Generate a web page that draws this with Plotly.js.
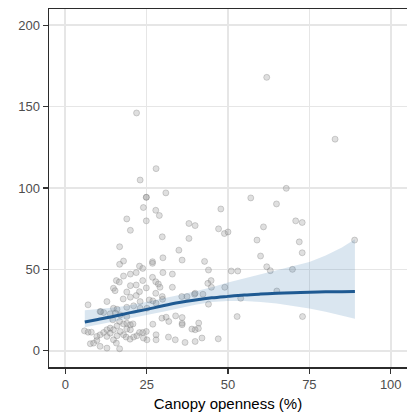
<!DOCTYPE html>
<html>
<head>
<meta charset="utf-8">
<script src="https://cdn.plot.ly/plotly-3.0.1.min.js"></script>
<style>html,body{margin:0;padding:0;background:#fff;}#chart{width:407px;height:419px;}</style>
</head>
<body>
<div id="chart"></div>
<script>
// Observed points: canopy openness (%) and response
const pointX = [21.9,61.9,82.9,27.9,23.0,24.9,24.9,30.9,67.9,57.0,64.9,24.0,27.8,47.8,
28.9,18.9,24.9,29.8,20.0,38.0,39.9,38.0,47.1,48.9,50.0,60.9,58.9,60.0,70.8,72.8,71.9,72.8,88.9,16.7,34.9,35.9,42.8,44.0,44.8,43.8,44.9,
17.9,16.7,22.8,23.8,26.8,26.8,30.0,30.0,32.9,21.8,20.0,17.9,15.7,16.6,23.8,21.8,20.0,18.9,24.9,22.8,26.8,27.8,28.6,29.1,27.8,29.8,29.9,32.9,35.8,39.9,
14.8,15.3,17.8,20.0,21.8,12.8,18.9,21.0,23.0,25.8,26.9,7.0,10.7,11.8,14.8,15.9,15.4,13.8,16.9,14.6,18.9,29.7,31.0,31.8,33.9,35.9,35.9,35.9,40.9,39.9,38.9,41.0,
26.9,24.9,22.8,23.8,27.9,27.9,31.7,33.8,36.8,39.9,42.0,47.0,52.8,53.9,51.0,53.0,49.0,61.9,63.0,69.8,65.0,72.9,44.0,
5.9,7.0,8.0,7.7,8.7,9.7,9.7,10.7,11.8,12.8,13.8,10.7,12.8,14.8,15.7,16.7,15.9,17.9,16.9,14.8,15.9,17.9,16.7,18.9,20.0,20.8,18.9,20.0,18.7,19.9,21.0,22.0,13.8,12.8,25.1,24.0,
25.1,23.0,27.9,37.4,39.7,42.3,10.9];
const pointY = [146.1,168.0,130.0,111.9,104.9,94.3,94.3,97.0,99.8,93.9,90.2,88.0,86.3,87.1,
83.1,81.0,79.8,70.0,74.0,78.2,76.9,69.0,74.9,72.0,73.0,76.1,68.0,58.2,79.8,78.8,66.9,60.2,68.0,63.9,61.8,55.7,54.9,49.6,43.1,41.4,39.0,
55.1,53.1,52.0,50.6,54.7,53.7,57.1,48.0,47.1,48.0,47.1,45.9,43.1,42.2,43.1,40.4,40.0,36.1,38.6,36.3,45.1,42.4,41.0,39.0,35.3,33.3,31.6,39.0,33.3,35.3,
38.4,36.9,31.8,32.9,33.9,30.2,26.7,27.6,30.2,31.2,30.6,28.2,24.1,23.5,26.1,25.5,23.1,22.7,22.0,19.0,21.0,20.0,20.6,18.0,21.4,20.4,16.9,16.0,13.7,12.9,13.3,17.0,
16.3,11.8,11.2,11.2,9.8,6.7,8.4,6.7,5.1,5.7,7.8,7.3,21.0,32.2,49.0,49.0,39.0,51.6,49.2,50.0,36.7,21.0,28.6,
12.2,11.4,11.4,4.3,4.7,6.3,8.8,9.8,11.2,12.9,13.9,2.7,1.6,6.7,4.7,1.2,9.2,9.8,11.8,12.9,15.3,16.5,18.0,16.9,15.9,16.5,13.3,12.9,8.4,7.1,8.4,9.2,10.8,8.8,6.7,7.8,
26.1,26.1,29.2,33.3,34.7,34.7,24.0];

// Fitted curve with confidence band
const fitX = [6,10,15,20,25,30,35,40,45,50,55,60,65,70,75,80,85,89];
const fitY = [17.6,19.2,21.2,23.4,25.4,27.6,29.6,31.2,32.5,33.4,34.2,34.8,35.3,35.7,36.0,36.2,36.3,36.4];
const fitUpper = [24.8,25.5,26.5,28.0,30.0,32.0,34.3,36.5,39.0,42.0,44.5,47.0,49.5,52.0,54.5,58.5,63.5,68.5];
const fitLower = [14.5,16.0,18.0,20.0,22.0,24.0,26.2,28.3,30.0,30.5,30.5,30.0,29.0,27.5,26.0,24.0,21.5,19.6];

const xTicks = [0,25,50,75,100];
const yTicks = [0,50,100,150,200];
const xTitle = "Canopy openness (%)";

const traces = [
  {x: pointX, y: pointY, type: 'scatter', mode: 'markers',
   marker: {size: 6, color: 'rgba(150,150,150,0.3)', line: {color: 'rgba(115,115,115,0.3)', width: 1}},
   hoverinfo: 'skip'},
  {x: fitX, y: fitUpper, type: 'scatter', mode: 'lines', line: {width: 0, color: 'rgba(0,0,0,0)'}, hoverinfo: 'skip'},
  {x: fitX, y: fitLower, type: 'scatter', mode: 'lines', line: {width: 0, color: 'rgba(0,0,0,0)'},
   fill: 'tonexty', fillcolor: 'rgba(70,130,180,0.2)', hoverinfo: 'skip'},
  {x: fitX, y: fitY, type: 'scatter', mode: 'lines', line: {color: '#1F5A92', width: 3, shape: 'spline'}, hoverinfo: 'skip'}
];

const axisCommon = {
  showgrid: true, gridcolor: '#E6E6E6', gridwidth: 1.6, zeroline: false,
  showline: true, mirror: true, linecolor: '#2B2B2B', linewidth: 1.5,
  ticks: 'outside', ticklen: 5, tickwidth: 1.2, tickcolor: '#333333',
  tickfont: {family: 'Liberation Sans, Arial, sans-serif', size: 13, color: '#4D4D4D'}
};

const layout = {
  width: 407, height: 419,
  margin: {l: 49, r: 0, t: 9, b: 52},
  paper_bgcolor: '#FFFFFF', plot_bgcolor: '#FFFFFF',
  showlegend: false,
  font: {family: 'Liberation Sans, Arial, sans-serif'},
  xaxis: Object.assign({}, axisCommon, {
    range: [-5, 105], tickvals: xTicks, ticktext: xTicks.map(String),
    title: {text: xTitle, font: {size: 15, color: '#000000'}, standoff: 7}
  }),
  yaxis: Object.assign({}, axisCommon, {
    range: [-10, 210], tickvals: yTicks, ticktext: yTicks.map(String)
  })
};

Plotly.newPlot('chart', traces, layout, {displayModeBar: false, staticPlot: true});
</script>
</body>
</html>
